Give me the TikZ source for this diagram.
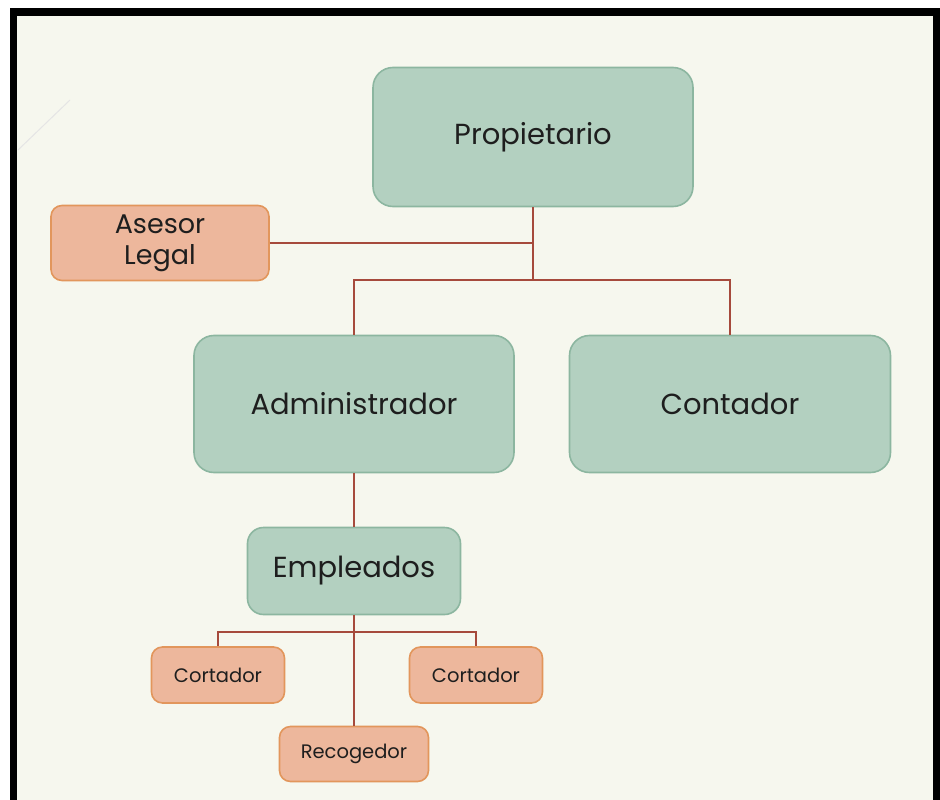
\documentclass[tikz,border=0pt]{standalone}
\usepackage{fontspec}
\setmainfont{Poppins}
\definecolor{bgc}{RGB}{246,247,238}
\definecolor{gfill}{RGB}{179,208,192}
\definecolor{gdraw}{RGB}{140,182,160}
\definecolor{ofill}{RGB}{237,183,156}
\definecolor{odraw}{RGB}{226,150,92}
\definecolor{lnc}{RGB}{166,74,60}
\definecolor{txt}{RGB}{30,30,30}
\begin{document}
\begin{tikzpicture}[x=1pt,y=-1pt,
  gbox/.style={draw=gdraw,fill=gfill,line width=1.6pt,rounded corners=20pt,text=txt,inner sep=0pt,align=center},
  obox/.style={draw=odraw,fill=ofill,line width=1.6pt,rounded corners=11pt,text=txt,inner sep=0pt,align=center},
  conn/.style={draw=lnc,line width=2pt}]
\useasboundingbox (0,0) rectangle (940,800);
\fill[white] (0,0) rectangle (940,800);
\fill[black] (10,8) rectangle (940,800);
\fill[bgc] (17,16) rectangle (933,800);
\draw[gray!20,line width=1pt] (18,150) -- (70,100);
% nodes
\node[gbox,minimum width=320pt,minimum height=139pt,font=\fontsize{29}{34}\selectfont] (prop) at (533,137) {Propietario};
\node[obox,minimum width=218pt,minimum height=75pt,font=\fontsize{27}{31}\selectfont] (ases) at (160,243) {Asesor\\Legal};
\node[gbox,minimum width=320pt,minimum height=137pt,font=\fontsize{29}{34}\selectfont] (admin) at (354,404) {Administrador};
\node[gbox,minimum width=321pt,minimum height=137pt,font=\fontsize{29}{34}\selectfont] (cont) at (730,404) {Contador};
\node[gbox,rounded corners=16pt,minimum width=213pt,minimum height=87pt,font=\fontsize{29}{34}\selectfont] (emp) at (354,571) {Empleados};
\node[obox,minimum width=133pt,minimum height=56pt,font=\fontsize{19.5}{24}\selectfont] (c1) at (218,675) {Cortador};
\node[obox,minimum width=133pt,minimum height=56pt,font=\fontsize{19.5}{24}\selectfont] (c2) at (476,675) {Cortador};
\node[obox,minimum width=149pt,minimum height=55pt,font=\fontsize{19.5}{24}\selectfont] (rec) at (354,754) {Recogedor};
% junctions
\coordinate (j0) at (533,243);
\coordinate (j1) at (533,280);
\coordinate (j2) at (354,632);
% connectors
\draw[conn] (prop.south) -- (j1);
\draw[conn] (ases.east) -- (j0);
\draw[conn] (admin.north) |- (j1) -| (cont.north);
\draw[conn] (admin.south) -- (emp.north);
\draw[conn] (emp.south) -- (rec.north);
\draw[conn] (c1.north) |- (j2) -| (c2.north);
\end{tikzpicture}
\end{document}
